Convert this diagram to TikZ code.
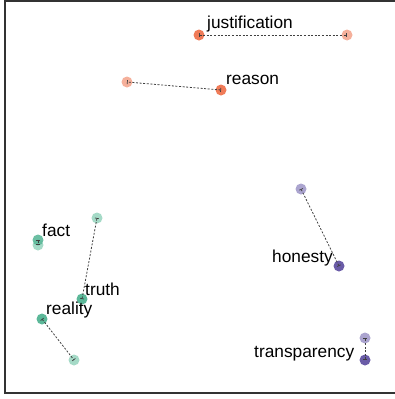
\documentclass[tikz,border=0pt]{standalone}
\usepackage{fontspec}
\setmainfont{Liberation Sans}
\usetikzlibrary{arrows.meta}
\definecolor{odark}{HTML}{F07B58}
\definecolor{olight}{HTML}{F5B09B}
\definecolor{gdark}{HTML}{5CB899}
\definecolor{glight}{HTML}{A5DAC7}
\definecolor{pdark}{HTML}{6A5CA7}
\definecolor{plight}{HTML}{ABA4CF}
\definecolor{framec}{HTML}{333333}
\tikzset{
  pt/.style={circle, inner sep=0pt, minimum size=11pt, draw=none},
  lab/.style={anchor=base west, inner sep=0pt, font=\fontsize{17.3}{20}\selectfont, text=black},
  conn/.style={draw=black!75, line width=0.8pt, dash pattern=on 2pt off 1.6pt, {Bar[width=4pt,line width=0.7pt]}-{Bar[width=4pt,line width=0.7pt]}}
}
\begin{document}
\begin{tikzpicture}[x=1pt,y=-1pt]
\useasboundingbox (0,0) rectangle (394,399);
\draw[framec, line width=1.5pt] (395,1) -- (5,1) -- (5,393) -- (395,393);
% points
\node[pt, fill=odark] (j1) at (199,35) {};
\node[pt, fill=olight] (j2) at (347,35) {};
\node[pt, fill=olight] (r2) at (127,82) {};
\node[pt, fill=odark] (r1) at (221,90) {};
\node[pt, fill=glight] (f2) at (38,245) {};
\node[pt, fill=gdark, fill opacity=0.9] (f1) at (38,240) {};
\node[pt, fill=glight] (t2) at (97,218) {};
\node[pt, fill=gdark] (t1) at (82,299) {};
\node[pt, fill=gdark] (re1) at (42,319) {};
\node[pt, fill=glight] (re2) at (74,360) {};
\node[pt, fill=plight] (h2) at (301,189) {};
\node[pt, fill=pdark] (h1) at (339,266) {};
\node[pt, fill=plight] (tr2) at (365,338) {};
\node[pt, fill=pdark] (tr1) at (365,360) {};
% connectors
\draw[conn] (j1.center) -- (j2.center);
\draw[conn] (r1.center) -- (r2.center);
\draw[conn] (f1.center) -- (f2.center);
\draw[conn] (t1.center) -- (t2.center);
\draw[conn] (re1.center) -- (re2.center);
\draw[conn] (h1.center) -- (h2.center);
\draw[conn] (tr1.center) -- (tr2.center);
% labels
\node[lab] (lj) at (207,28) {justification};
\node[lab] (lr) at (226,84) {reason};
\node[lab] (lf) at (42,236) {fact};
\node[lab] (lt) at (85,295) {truth};
\node[lab] (lre) at (46,314) {reality};
\node[lab] (lh) at (272,262) {honesty};
\node[lab] (ltr) at (254,357) {transparency};
\end{tikzpicture}
\end{document}
